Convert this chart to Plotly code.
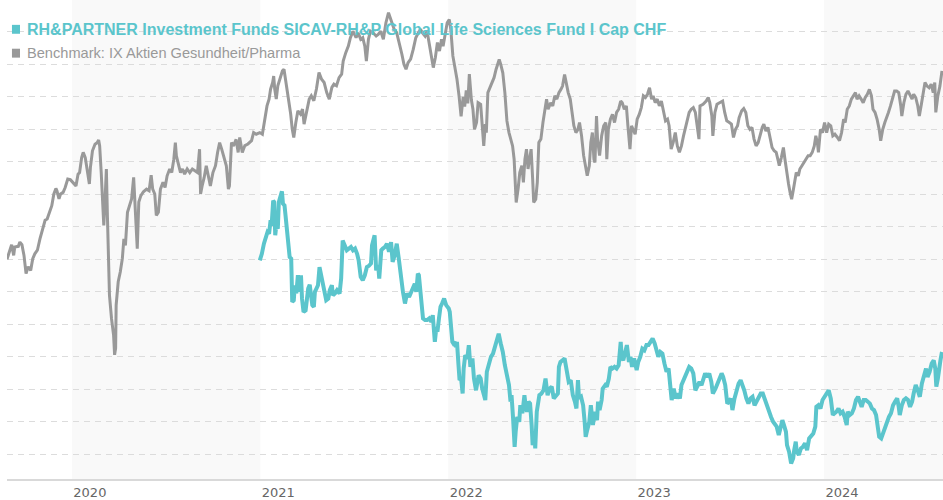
import plotly.graph_objects as go

# ---------------- data ----------------
fund_name = "RH&PARTNER Investment Funds SICAV-RH&P Global Life Sciences Fund I Cap CHF"
bench_name = "Benchmark: IX Aktien Gesundheit/Pharma"

# cumulative performance in % (benchmark)
bench_points = [
    ("2019-08-28", 0.0), ("2019-09-03", 2.8), ("2019-09-06", 4.5), ("2019-09-10", 1.2), ("2019-09-12", 3.8),
    ("2019-09-19", 4.0), ("2019-09-22", 5.3), ("2019-09-26", 4.5), ("2019-09-30", 1.2), ("2019-10-04", -4.4),
    ("2019-10-08", -2.3), ("2019-10-13", -3.4), ("2019-10-17", 0.2), ("2019-10-21", 1.7), ("2019-10-26", 2.8),
    ("2019-10-31", 6.3), ("2019-11-06", 9.4), ("2019-11-10", 12.0), ("2019-11-14", 12.4), ("2019-11-18", 14.0),
    ("2019-11-23", 16.5), ("2019-11-27", 20.1), ("2019-12-01", 21.8), ("2019-12-03", 21.1), ("2019-12-07", 18.6),
    ("2019-12-10", 20.1), ("2019-12-15", 20.6), ("2019-12-19", 22.1), ("2019-12-24", 24.7), ("2019-12-29", 24.5),
    ("2020-01-03", 23.7), ("2020-01-09", 22.6), ("2020-01-13", 26.2), ("2020-01-16", 26.7), ("2020-01-20", 31.3),
    ("2020-01-23", 32.9), ("2020-01-27", 31.3), ("2020-01-31", 27.8), ("2020-02-04", 23.2), ("2020-02-06", 28.3),
    ("2020-02-10", 33.4), ("2020-02-15", 35.4), ("2020-02-19", 35.9), ("2020-02-22", 36.7), ("2020-02-24", 34.9),
    ("2020-02-27", 26.7), ("2020-02-29", 20.6), ("2020-03-03", 10.4), ("2020-03-05", 16.5), ("2020-03-08", 27.8),
    ("2020-03-10", 13.5), ("2020-03-12", 0.2), ("2020-03-14", -11.0), ("2020-03-18", -18.2), ("2020-03-22", -23.3),
    ("2020-03-24", -29.4), ("2020-03-26", -27.3), ("2020-03-27", -14.1), ("2020-03-31", -6.9), ("2020-04-04", -3.9),
    ("2020-04-08", 0.2), ("2020-04-11", 6.3), ("2020-04-14", 4.3), ("2020-04-18", 14.5), ("2020-04-22", 17.0),
    ("2020-04-26", 18.6), ("2020-04-30", 25.2), ("2020-05-02", 19.6), ("2020-05-05", 12.4), ("2020-05-07", 3.3),
    ("2020-05-10", 17.6), ("2020-05-14", 19.6), ("2020-05-19", 20.8), ("2020-05-25", 21.6), ("2020-05-30", 21.1),
    ("2020-06-03", 25.9), ("2020-06-06", 21.6), ("2020-06-10", 20.1), ("2020-06-13", 13.5), ("2020-06-17", 14.5),
    ("2020-06-21", 21.6), ("2020-06-26", 23.7), ("2020-06-30", 22.1), ("2020-07-04", 25.7), ("2020-07-09", 27.8),
    ("2020-07-13", 26.7), ("2020-07-17", 30.8), ("2020-07-20", 35.9), ("2020-07-22", 31.8), ("2020-07-26", 28.8),
    ("2020-07-30", 26.7), ("2020-08-03", 27.8), ("2020-08-07", 26.2), ("2020-08-12", 27.8), ("2020-08-17", 26.7),
    ("2020-08-22", 27.8), ("2020-08-27", 27.2), ("2020-09-01", 26.7), ("2020-09-05", 33.9), ("2020-09-07", 20.1),
    ("2020-09-10", 22.6), ("2020-09-14", 25.2), ("2020-09-18", 28.8), ("2020-09-22", 25.7), ("2020-09-26", 22.6),
    ("2020-10-01", 26.7), ("2020-10-06", 28.8), ("2020-10-10", 32.9), ("2020-10-14", 35.9), ("2020-10-18", 33.9),
    ("2020-10-22", 31.3), ("2020-10-27", 28.8), ("2020-10-31", 21.6), ("2020-11-02", 22.6), ("2020-11-06", 35.9),
    ("2020-11-10", 34.9), ("2020-11-15", 36.9), ("2020-11-19", 32.9), ("2020-11-22", 37.5), ("2020-11-27", 32.9),
    ("2020-12-02", 35.0), ("2020-12-08", 35.5), ("2020-12-15", 36.5), ("2020-12-19", 39.0), ("2020-12-24", 38.5),
    ("2020-12-31", 39.0), ("2021-01-05", 38.5), ("2021-01-10", 44.2), ("2021-01-14", 47.2), ("2021-01-18", 49.3),
    ("2021-01-21", 52.4), ("2021-01-25", 54.4), ("2021-01-27", 56.4), ("2021-01-29", 52.4), ("2021-02-01", 49.3),
    ("2021-02-04", 53.4), ("2021-02-09", 55.9), ("2021-02-13", 58.0), ("2021-02-16", 58.5), ("2021-02-19", 55.4),
    ("2021-02-22", 52.4), ("2021-02-26", 47.2), ("2021-03-01", 44.7), ("2021-03-04", 40.1), ("2021-03-07", 37.5),
    ("2021-03-11", 42.1), ("2021-03-15", 45.7), ("2021-03-20", 44.7), ("2021-03-24", 46.2), ("2021-03-27", 41.6),
    ("2021-04-01", 45.7), ("2021-04-06", 49.3), ("2021-04-10", 50.3), ("2021-04-15", 48.8), ("2021-04-20", 52.4),
    ("2021-04-25", 57.5), ("2021-04-30", 55.4), ("2021-05-05", 54.4), ("2021-05-10", 51.3), ("2021-05-15", 49.3),
    ("2021-05-20", 52.9), ("2021-05-24", 53.9), ("2021-05-29", 53.4), ("2021-06-03", 55.9), ("2021-06-08", 57.0),
    ("2021-06-11", 61.0), ("2021-06-16", 63.6), ("2021-06-21", 65.6), ("2021-06-25", 68.2), ("2021-06-30", 70.2),
    ("2021-07-06", 68.2), ("2021-07-10", 69.7), ("2021-07-15", 67.7), ("2021-07-19", 68.2), ("2021-07-23", 65.6),
    ("2021-07-26", 61.0), ("2021-07-30", 67.7), ("2021-08-03", 70.2), ("2021-08-08", 69.7), ("2021-08-14", 68.7),
    ("2021-08-18", 69.2), ("2021-08-23", 70.2), ("2021-08-28", 67.7), ("2021-09-02", 72.8), ("2021-09-07", 75.9),
    ("2021-09-12", 73.8), ("2021-09-18", 70.8), ("2021-09-23", 69.7), ("2021-09-28", 66.7), ("2021-10-03", 63.1),
    ("2021-10-07", 60.0), ("2021-10-11", 58.5), ("2021-10-15", 60.5), ("2021-10-20", 61.6), ("2021-10-25", 64.6),
    ("2021-10-30", 68.2), ("2021-11-04", 69.7), ("2021-11-08", 70.8), ("2021-11-12", 69.7), ("2021-11-17", 68.7),
    ("2021-11-21", 70.2), ("2021-11-25", 66.7), ("2021-11-29", 62.6), ("2021-12-03", 59.0), ("2021-12-07", 62.1),
    ("2021-12-11", 66.7), ("2021-12-15", 64.1), ("2021-12-19", 67.7), ("2021-12-22", 65.6), ("2021-12-26", 69.7),
    ("2021-12-30", 72.8), ("2022-01-03", 73.8), ("2022-01-06", 70.8), ("2022-01-10", 62.6), ("2022-01-14", 59.5),
    ("2022-01-18", 55.4), ("2022-01-22", 50.3), ("2022-01-26", 44.0), ("2022-01-30", 50.0), ("2022-02-02", 47.0),
    ("2022-02-05", 52.0), ("2022-02-08", 48.0), ("2022-02-11", 57.0), ("2022-02-15", 49.0), ("2022-02-18", 46.2),
    ("2022-02-21", 40.0), ("2022-02-25", 42.1), ("2022-02-28", 48.2), ("2022-03-05", 47.7), ("2022-03-08", 42.1),
    ("2022-03-11", 34.9), ("2022-03-14", 41.6), ("2022-03-16", 39.0), ("2022-03-19", 51.3), ("2022-03-23", 52.8),
    ("2022-03-27", 53.9), ("2022-03-31", 55.9), ("2022-04-04", 58.5), ("2022-04-08", 61.0), ("2022-04-10", 61.5),
    ("2022-04-13", 60.0), ("2022-04-17", 57.4), ("2022-04-21", 51.3), ("2022-04-25", 42.6), ("2022-04-29", 39.0),
    ("2022-05-02", 37.0), ("2022-05-06", 34.9), ("2022-05-09", 30.8), ("2022-05-11", 22.6), ("2022-05-13", 17.5),
    ("2022-05-17", 22.1), ("2022-05-20", 26.7), ("2022-05-24", 28.8), ("2022-05-27", 23.7), ("2022-05-30", 30.8),
    ("2022-06-02", 33.9), ("2022-06-05", 27.8), ("2022-06-09", 31.9), ("2022-06-11", 33.9), ("2022-06-14", 24.7),
    ("2022-06-16", 17.5), ("2022-06-20", 18.5), ("2022-06-23", 23.7), ("2022-06-26", 36.0), ("2022-06-30", 37.0),
    ("2022-07-04", 42.1), ("2022-07-08", 47.2), ("2022-07-11", 49.3), ("2022-07-14", 46.2), ("2022-07-19", 48.2),
    ("2022-07-23", 47.2), ("2022-07-27", 50.3), ("2022-07-31", 49.3), ("2022-08-04", 51.3), ("2022-08-08", 52.3),
    ("2022-08-11", 53.3), ("2022-08-15", 56.9), ("2022-08-18", 54.4), ("2022-08-22", 51.3), ("2022-08-26", 49.3),
    ("2022-08-30", 45.2), ("2022-09-02", 41.1), ("2022-09-06", 39.0), ("2022-09-10", 40.0), ("2022-09-13", 42.1),
    ("2022-09-17", 38.0), ("2022-09-21", 31.9), ("2022-09-25", 27.8), ("2022-09-28", 25.7), ("2022-10-02", 28.8),
    ("2022-10-05", 36.0), ("2022-10-08", 39.0), ("2022-10-11", 30.8), ("2022-10-13", 29.8), ("2022-10-16", 44.1),
    ("2022-10-18", 37.0), ("2022-10-22", 31.9), ("2022-10-26", 38.0), ("2022-10-30", 41.1), ("2022-11-03", 42.1),
    ("2022-11-05", 30.8), ("2022-11-08", 40.0), ("2022-11-12", 43.1), ("2022-11-16", 44.6), ("2022-11-20", 42.1),
    ("2022-11-24", 45.2), ("2022-11-28", 46.2), ("2022-12-02", 48.7), ("2022-12-05", 48.2), ("2022-12-09", 46.2),
    ("2022-12-13", 47.2), ("2022-12-16", 41.1), ("2022-12-20", 33.9), ("2022-12-23", 41.1), ("2022-12-26", 40.0),
    ("2022-12-30", 38.5), ("2023-01-03", 43.1), ("2023-01-07", 44.6), ("2023-01-11", 46.7), ("2023-01-15", 50.3),
    ("2023-01-19", 49.8), ("2023-01-23", 50.8), ("2023-01-27", 52.8), ("2023-01-31", 49.3), ("2023-02-03", 50.3),
    ("2023-02-07", 48.2), ("2023-02-11", 49.3), ("2023-02-15", 47.2), ("2023-02-19", 48.7), ("2023-02-23", 45.2),
    ("2023-02-27", 42.6), ("2023-03-03", 43.1), ("2023-03-06", 41.1), ("2023-03-10", 33.9), ("2023-03-14", 36.0),
    ("2023-03-18", 39.0), ("2023-03-22", 34.9), ("2023-03-26", 32.9), ("2023-03-30", 34.9), ("2023-04-03", 38.0),
    ("2023-04-06", 40.0), ("2023-04-10", 43.1), ("2023-04-14", 45.2), ("2023-04-18", 46.2), ("2023-04-22", 46.7),
    ("2023-04-26", 45.2), ("2023-04-30", 41.1), ("2023-05-03", 37.0), ("2023-05-05", 47.2), ("2023-05-11", 47.7),
    ("2023-05-17", 48.7), ("2023-05-21", 49.8), ("2023-05-24", 48.2), ("2023-05-28", 44.1), ("2023-05-30", 38.0),
    ("2023-06-03", 45.2), ("2023-06-07", 47.7), ("2023-06-13", 48.2), ("2023-06-18", 48.7), ("2023-06-22", 45.2),
    ("2023-06-26", 42.6), ("2023-07-01", 42.1), ("2023-07-05", 41.6), ("2023-07-09", 37.5), ("2023-07-13", 40.0),
    ("2023-07-17", 41.1), ("2023-07-20", 43.6), ("2023-07-25", 45.7), ("2023-07-29", 46.4), ("2023-08-02", 45.2),
    ("2023-08-06", 41.1), ("2023-08-10", 40.0), ("2023-08-14", 40.6), ("2023-08-18", 37.0), ("2023-08-22", 34.9),
    ("2023-08-26", 35.9), ("2023-08-30", 38.5), ("2023-09-03", 40.6), ("2023-09-06", 41.6), ("2023-09-10", 39.5),
    ("2023-09-14", 40.6), ("2023-09-18", 37.0), ("2023-09-22", 34.4), ("2023-09-26", 33.4), ("2023-09-30", 32.9),
    ("2023-10-04", 30.3), ("2023-10-06", 28.8), ("2023-10-10", 31.3), ("2023-10-14", 34.4), ("2023-10-17", 30.8),
    ("2023-10-20", 26.7), ("2023-10-24", 23.2), ("2023-10-27", 20.6), ("2023-10-30", 18.5), ("2023-11-02", 21.1),
    ("2023-11-05", 24.7), ("2023-11-08", 26.7), ("2023-11-12", 25.7), ("2023-11-15", 27.8), ("2023-11-19", 28.8),
    ("2023-11-23", 29.8), ("2023-11-27", 30.8), ("2023-12-01", 31.9), ("2023-12-05", 31.9), ("2023-12-09", 32.9),
    ("2023-12-13", 34.9), ("2023-12-16", 38.0), ("2023-12-19", 35.9), ("2023-12-21", 32.9), ("2023-12-25", 40.0),
    ("2023-12-29", 39.0), ("2024-01-02", 42.1), ("2024-01-06", 39.0), ("2024-01-10", 41.6), ("2024-01-14", 41.1),
    ("2024-01-18", 38.0), ("2024-01-22", 38.5), ("2024-01-27", 37.5), ("2024-01-31", 36.5), ("2024-02-04", 39.0),
    ("2024-02-08", 43.1), ("2024-02-11", 42.1), ("2024-02-15", 46.2), ("2024-02-19", 47.2), ("2024-02-23", 49.3),
    ("2024-02-27", 50.3), ("2024-03-02", 51.3), ("2024-03-05", 49.3), ("2024-03-09", 50.3), ("2024-03-13", 49.3),
    ("2024-03-17", 48.2), ("2024-03-21", 49.8), ("2024-03-25", 50.8), ("2024-03-29", 52.3), ("2024-04-02", 50.3),
    ("2024-04-05", 46.2), ("2024-04-09", 45.2), ("2024-04-13", 43.1), ("2024-04-17", 40.0), ("2024-04-20", 36.5),
    ("2024-04-24", 40.0), ("2024-04-28", 42.1), ("2024-05-02", 43.6), ("2024-05-05", 45.2), ("2024-05-09", 47.2),
    ("2024-05-13", 49.3), ("2024-05-17", 51.8), ("2024-05-21", 51.8), ("2024-05-25", 51.3), ("2024-05-29", 47.2),
    ("2024-05-31", 44.1), ("2024-06-04", 48.2), ("2024-06-08", 50.8), ("2024-06-12", 51.8), ("2024-06-16", 50.3),
    ("2024-06-20", 49.3), ("2024-06-23", 50.8), ("2024-06-27", 49.8), ("2024-07-01", 47.2), ("2024-07-04", 44.1),
    ("2024-07-08", 47.7), ("2024-07-11", 50.3), ("2024-07-15", 54.4), ("2024-07-19", 53.3), ("2024-07-23", 52.8),
    ("2024-07-27", 53.9), ("2024-07-31", 51.3), ("2024-08-03", 54.4), ("2024-08-05", 45.2), ("2024-08-09", 50.3),
    ("2024-08-13", 53.3), ("2024-08-17", 58.0),
]

# cumulative performance in % (fund)
fund_points = [
    ("2020-12-31", -0.3), ("2021-01-04", 1.7), ("2021-01-08", 4.8), ("2021-01-11", 6.9), ("2021-01-15", 8.4),
    ("2021-01-18", 7.9), ("2021-01-21", 12.0), ("2021-01-23", 10.4), ("2021-01-26", 18.1), ("2021-01-28", 17.6),
    ("2021-01-30", 7.4), ("2021-02-01", 10.4), ("2021-02-04", 9.4), ("2021-02-06", 17.6), ("2021-02-09", 19.7),
    ("2021-02-12", 20.9), ("2021-02-14", 17.1), ("2021-02-17", 16.6), ("2021-02-19", 13.5), ("2021-02-22", 9.4),
    ("2021-02-25", 5.8), ("2021-02-27", 0.7), ("2021-03-02", 0.2), ("2021-03-04", -13.1), ("2021-03-07", -12.6),
    ("2021-03-09", -8.0), ("2021-03-12", -10.5), ("2021-03-15", -4.9), ("2021-03-18", -10.0), ("2021-03-21", -4.9),
    ("2021-03-23", -12.1), ("2021-03-26", -16.2), ("2021-03-30", -15.7), ("2021-04-02", -12.1), ("2021-04-04", -9.0),
    ("2021-04-07", -7.8), ("2021-04-09", -11.1), ("2021-04-12", -14.1), ("2021-04-15", -14.6), ("2021-04-17", -10.0),
    ("2021-04-20", -9.0), ("2021-04-23", -8.0), ("2021-04-26", -2.4), ("2021-04-29", -4.9), ("2021-05-03", -7.0),
    ("2021-05-06", -10.0), ("2021-05-09", -12.6), ("2021-05-13", -12.1), ("2021-05-16", -9.5), ("2021-05-20", -8.0),
    ("2021-05-22", -11.1), ("2021-05-26", -10.5), ("2021-05-30", -9.5), ("2021-06-04", -10.5), ("2021-06-07", -5.9),
    ("2021-06-10", 5.8), ("2021-06-14", 4.3), ("2021-06-18", 2.8), ("2021-06-22", 3.3), ("2021-06-26", 3.8),
    ("2021-06-30", 2.8), ("2021-07-04", 3.3), ("2021-07-08", 1.7), ("2021-07-11", -0.3), ("2021-07-15", -5.4),
    ("2021-07-19", -6.4), ("2021-07-23", -4.9), ("2021-07-27", -2.4), ("2021-07-31", -2.0), ("2021-08-04", -1.3),
    ("2021-08-06", 4.3), ("2021-08-09", 6.3), ("2021-08-11", 7.4), ("2021-08-14", -3.4), ("2021-08-18", -1.8),
    ("2021-08-20", -5.9), ("2021-08-24", 2.8), ("2021-08-27", 3.3), ("2021-08-31", 3.8), ("2021-09-04", 4.8),
    ("2021-09-08", 2.3), ("2021-09-12", 5.3), ("2021-09-15", -0.8), ("2021-09-19", 1.2), ("2021-09-23", 4.8),
    ("2021-09-27", 0.2), ("2021-10-01", -6.4), ("2021-10-05", -10.0), ("2021-10-09", -13.6), ("2021-10-13", -10.5),
    ("2021-10-17", -11.6), ("2021-10-21", -10.0), ("2021-10-25", -9.0), ("2021-10-28", -7.5), ("2021-10-31", -10.0),
    ("2021-11-03", -4.4), ("2021-11-05", -4.9), ("2021-11-08", -9.0), ("2021-11-11", -14.1), ("2021-11-13", -18.2),
    ("2021-11-17", -18.7), ("2021-11-21", -18.7), ("2021-11-25", -18.2), ("2021-11-29", -19.2), ("2021-12-02", -17.2),
    ("2021-12-04", -22.3), ("2021-12-06", -25.4), ("2021-12-09", -20.8), ("2021-12-11", -22.3), ("2021-12-14", -18.2),
    ("2021-12-17", -14.6), ("2021-12-20", -13.6), ("2021-12-24", -12.1), ("2021-12-28", -14.1), ("2022-01-02", -15.1),
    ("2022-01-04", -16.2), ("2022-01-06", -20.3), ("2022-01-09", -25.4), ("2022-01-11", -25.9), ("2022-01-14", -25.4),
    ("2022-01-16", -27.0), ("2022-01-18", -25.4), ("2022-01-21", -32.6), ("2022-01-23", -37.2), ("2022-01-26", -36.7),
    ("2022-01-29", -41.3), ("2022-01-31", -33.6), ("2022-02-03", -29.5), ("2022-02-07", -30.5), ("2022-02-10", -26.4),
    ("2022-02-13", -33.1), ("2022-02-17", -30.5), ("2022-02-20", -36.7), ("2022-02-24", -40.3), ("2022-03-01", -35.7),
    ("2022-03-05", -36.7), ("2022-03-08", -39.8), ("2022-03-12", -41.8), ("2022-03-14", -43.3), ("2022-03-17", -34.6),
    ("2022-03-21", -31.6), ("2022-03-25", -30.0), ("2022-03-29", -29.0), ("2022-04-02", -26.4), ("2022-04-05", -24.4),
    ("2022-04-09", -22.9), ("2022-04-13", -25.9), ("2022-04-17", -28.5), ("2022-04-21", -32.6), ("2022-04-25", -35.7),
    ("2022-04-29", -38.7), ("2022-05-02", -43.8), ("2022-05-04", -41.8), ("2022-05-07", -49.0), ("2022-05-10", -57.7),
    ("2022-05-12", -53.1), ("2022-05-15", -48.5), ("2022-05-19", -50.0), ("2022-05-21", -44.9), ("2022-05-25", -47.4),
    ("2022-05-29", -41.8), ("2022-06-01", -45.9), ("2022-06-03", -46.9), ("2022-06-06", -43.8), ("2022-06-09", -44.4),
    ("2022-06-12", -51.0), ("2022-06-14", -57.2), ("2022-06-17", -53.6), ("2022-06-19", -58.2), ("2022-06-22", -46.9),
    ("2022-06-25", -42.8), ("2022-06-27", -41.8), ("2022-07-01", -41.3), ("2022-07-05", -40.3), ("2022-07-09", -36.7),
    ("2022-07-13", -41.8), ("2022-07-17", -39.8), ("2022-07-21", -39.2), ("2022-07-25", -42.8), ("2022-07-29", -41.8),
    ("2022-08-02", -41.3), ("2022-08-04", -33.1), ("2022-08-07", -31.6), ("2022-08-11", -31.1), ("2022-08-15", -30.5),
    ("2022-08-19", -34.1), ("2022-08-23", -37.7), ("2022-08-27", -37.2), ("2022-08-31", -41.8), ("2022-09-04", -43.8),
    ("2022-09-07", -45.9), ("2022-09-10", -37.2), ("2022-09-12", -42.8), ("2022-09-16", -42.3), ("2022-09-20", -44.9),
    ("2022-09-23", -50.0), ("2022-09-25", -54.6), ("2022-09-28", -52.5), ("2022-10-02", -50.0), ("2022-10-05", -44.9),
    ("2022-10-09", -51.0), ("2022-10-13", -46.9), ("2022-10-17", -49.5), ("2022-10-19", -43.8), ("2022-10-22", -46.4),
    ("2022-10-26", -43.3), ("2022-10-28", -39.8), ("2022-11-02", -38.7), ("2022-11-05", -39.2), ("2022-11-09", -36.7),
    ("2022-11-12", -33.1), ("2022-11-16", -33.6), ("2022-11-20", -33.1), ("2022-11-24", -33.6), ("2022-11-28", -32.6),
    ("2022-12-02", -25.4), ("2022-12-04", -30.0), ("2022-12-07", -31.1), ("2022-12-11", -28.5), ("2022-12-14", -26.4),
    ("2022-12-18", -31.6), ("2022-12-21", -30.0), ("2022-12-24", -33.1), ("2022-12-28", -30.5), ("2023-01-02", -34.1),
    ("2023-01-05", -31.6), ("2023-01-09", -30.0), ("2023-01-13", -27.5), ("2023-01-17", -28.0), ("2023-01-21", -26.4),
    ("2023-01-25", -26.4), ("2023-01-29", -25.4), ("2023-02-02", -24.4), ("2023-02-06", -25.9), ("2023-02-09", -27.5),
    ("2023-02-13", -30.0), ("2023-02-17", -28.5), ("2023-02-21", -29.0), ("2023-02-25", -32.1), ("2023-03-01", -34.6),
    ("2023-03-05", -33.6), ("2023-03-09", -39.8), ("2023-03-11", -43.3), ("2023-03-15", -39.8), ("2023-03-19", -42.8),
    ("2023-03-23", -41.3), ("2023-03-27", -42.8), ("2023-03-30", -38.7), ("2023-04-03", -37.2), ("2023-04-06", -36.7),
    ("2023-04-10", -35.1), ("2023-04-14", -33.1), ("2023-04-18", -33.6), ("2023-04-22", -35.1), ("2023-04-26", -40.3),
    ("2023-04-30", -38.7), ("2023-05-04", -37.7), ("2023-05-08", -38.7), ("2023-05-11", -37.2), ("2023-05-15", -35.1),
    ("2023-05-19", -36.2), ("2023-05-23", -35.1), ("2023-05-27", -37.7), ("2023-05-30", -41.3), ("2023-06-04", -39.8),
    ("2023-06-08", -38.2), ("2023-06-12", -37.2), ("2023-06-16", -35.1), ("2023-06-19", -36.2), ("2023-06-23", -38.7),
    ("2023-06-27", -44.4), ("2023-07-01", -43.8), ("2023-07-04", -42.8), ("2023-07-07", -46.4), ("2023-07-11", -42.8),
    ("2023-07-15", -40.3), ("2023-07-19", -38.2), ("2023-07-23", -37.2), ("2023-07-27", -38.7), ("2023-07-30", -40.3),
    ("2023-08-03", -42.8), ("2023-08-07", -44.4), ("2023-08-11", -42.8), ("2023-08-15", -42.3), ("2023-08-19", -44.9),
    ("2023-08-23", -43.8), ("2023-08-27", -42.8), ("2023-08-31", -41.3), ("2023-09-04", -41.3), ("2023-09-08", -43.3),
    ("2023-09-12", -45.4), ("2023-09-16", -46.9), ("2023-09-20", -48.5), ("2023-09-24", -50.0), ("2023-09-27", -50.5),
    ("2023-10-01", -51.5), ("2023-10-05", -54.1), ("2023-10-08", -51.5), ("2023-10-12", -49.5), ("2023-10-16", -51.5),
    ("2023-10-19", -53.1), ("2023-10-21", -57.2), ("2023-10-25", -59.2), ("2023-10-29", -62.8), ("2023-11-02", -61.2),
    ("2023-11-04", -58.7), ("2023-11-07", -56.1), ("2023-11-09", -59.2), ("2023-11-13", -60.2), ("2023-11-17", -58.2),
    ("2023-11-21", -57.7), ("2023-11-25", -56.6), ("2023-11-29", -58.7), ("2023-12-03", -55.1), ("2023-12-07", -54.1),
    ("2023-12-11", -53.6), ("2023-12-15", -51.5), ("2023-12-17", -45.4), ("2023-12-21", -44.9), ("2023-12-25", -45.9),
    ("2023-12-29", -43.3), ("2024-01-02", -42.3), ("2024-01-06", -41.3), ("2024-01-10", -40.3), ("2024-01-14", -42.8),
    ("2024-01-18", -47.9), ("2024-01-21", -47.4), ("2024-01-25", -46.9), ("2024-01-29", -45.9), ("2024-02-02", -47.4),
    ("2024-02-06", -46.9), ("2024-02-10", -48.5), ("2024-02-14", -51.0), ("2024-02-16", -46.9), ("2024-02-20", -47.9),
    ("2024-02-24", -47.4), ("2024-02-28", -45.9), ("2024-03-03", -43.3), ("2024-03-07", -42.3), ("2024-03-11", -43.8),
    ("2024-03-14", -45.4), ("2024-03-18", -43.3), ("2024-03-22", -43.3), ("2024-03-26", -43.8), ("2024-03-30", -44.4),
    ("2024-04-03", -45.9), ("2024-04-07", -46.4), ("2024-04-11", -47.9), ("2024-04-14", -51.5), ("2024-04-17", -54.6),
    ("2024-04-21", -55.1), ("2024-04-25", -53.1), ("2024-04-29", -51.5), ("2024-05-03", -50.0), ("2024-05-06", -48.5),
    ("2024-05-10", -47.4), ("2024-05-14", -44.9), ("2024-05-18", -43.8), ("2024-05-22", -42.8), ("2024-05-25", -45.4),
    ("2024-05-27", -47.9), ("2024-05-31", -44.9), ("2024-06-04", -43.3), ("2024-06-08", -42.8), ("2024-06-12", -43.3),
    ("2024-06-16", -45.4), ("2024-06-20", -43.8), ("2024-06-23", -41.3), ("2024-06-27", -38.7), ("2024-07-01", -40.3),
    ("2024-07-05", -42.3), ("2024-07-09", -38.2), ("2024-07-13", -35.7), ("2024-07-17", -33.6), ("2024-07-20", -36.2),
    ("2024-07-24", -34.6), ("2024-07-28", -32.1), ("2024-08-01", -31.1), ("2024-08-04", -33.6), ("2024-08-06", -39.2),
    ("2024-08-09", -36.7), ("2024-08-11", -33.6), ("2024-08-14", -31.1), ("2024-08-17", -28.5),
]

bench_dates = [d for d, _ in bench_points]
bench_values = [v for _, v in bench_points]
fund_dates = [d for d, _ in fund_points]
fund_values = [v for _, v in fund_points]

year_ticks = ["2020-01-01", "2021-01-01", "2022-01-01", "2023-01-01", "2024-01-01"]
year_labels = ["2020", "2021", "2022", "2023", "2024"]
shaded_periods = [("2020-01-01", "2021-01-01"), ("2022-01-01", "2023-01-01"), ("2024-01-01", "2024-08-19")]
x_window = ["2019-08-28", "2024-08-19"]
y_window = [-67.6, 79.8]

# ---------------- styling ----------------
TEAL = "#5bc5cc"
GREY = "#999999"
BAND = "#f9f9f9"
GRID = "#dcdcdc"
FONT = "Liberation Sans, Arial, sans-serif"

fig = go.Figure()
fig.add_trace(go.Scatter(x=fund_dates, y=fund_values, mode="lines", name=fund_name,
                         line=dict(color=TEAL, width=4), showlegend=False, hoverinfo="skip"))
fig.add_trace(go.Scatter(x=bench_dates, y=bench_values, mode="lines", name=bench_name,
                         line=dict(color=GREY, width=3), showlegend=False, hoverinfo="skip"))

shapes = []
for a, b in shaded_periods:
    shapes.append(dict(type="rect", xref="x", yref="paper", x0=a, x1=b, y0=0, y1=1,
                       fillcolor=BAND, line=dict(width=0), layer="below"))
# legend squares
shapes.append(dict(type="rect", xref="paper", yref="paper", x0=0.0053, x1=0.0139, y0=0.9295, y1=0.9481,
                   fillcolor=TEAL, line=dict(width=0)))
shapes.append(dict(type="rect", xref="paper", yref="paper", x0=0.0053, x1=0.0139, y0=0.8797, y1=0.8983,
                   fillcolor="#999999", line=dict(width=0)))

annotations = [
    dict(xref="paper", yref="paper", x=0.0195, y=0.9392, xanchor="left", yanchor="middle",
         text="<b>" + fund_name.replace("&", "&amp;") + "</b>", showarrow=False,
         font=dict(family=FONT, size=16, color=TEAL)),
    dict(xref="paper", yref="paper", x=0.0195, y=0.8894, xanchor="left", yanchor="middle",
         text=bench_name, showarrow=False,
         font=dict(family=FONT, size=14.6, color="#999999")),
]

fig.update_layout(
    width=943, height=500,
    margin=dict(l=7, r=0, t=0, b=18),
    paper_bgcolor="white", plot_bgcolor="white",
    shapes=shapes, annotations=annotations,
    showlegend=False,
    xaxis=dict(type="date", range=x_window, showgrid=False, zeroline=False,
               showline=True, linecolor="#d9d9d9", linewidth=2,
               tickmode="array", tickvals=year_ticks, ticktext=year_labels,
               ticks="", ticklabelshift=18,
               tickfont=dict(family="DejaVu Sans, sans-serif", size=13, color="#666666")),
    yaxis=dict(range=y_window, tick0=0, dtick=10, showticklabels=False,
               showgrid=True, gridcolor=GRID, gridwidth=1, griddash="6px,5px",
               zeroline=False, showline=False, ticks=""),
)

fig.write_html("out.html", config={"displayModeBar": False},
               post_script="document.body.style.margin='0px';")
